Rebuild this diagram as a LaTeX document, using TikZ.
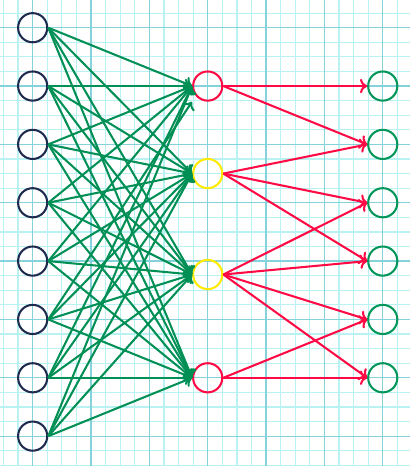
\documentclass[tikz,border=0pt]{standalone}
\usetikzlibrary{arrows.meta}
\definecolor{gridminor}{HTML}{B8F2F2}
\definecolor{gridmajor}{HTML}{86D2DA}
\definecolor{inblue}{HTML}{1F2A4F}
\definecolor{hidred}{HTML}{FF0A45}
\definecolor{hidyel}{HTML}{FFEA00}
\definecolor{outgreen}{HTML}{00965A}
\definecolor{edgegreen}{HTML}{008F55}
\definecolor{edgered}{HTML}{FF0A45}
\tikzset{
  neuron/.style={circle, minimum size=0.5cm, inner sep=0pt, line width=1pt},
  innode/.style={neuron, draw=inblue},
  rednode/.style={neuron, draw=hidred},
  yelnode/.style={neuron, draw=hidyel},
  outnode/.style={neuron, draw=outgreen},
  gedge/.style={-{To[length=3.5pt,width=7pt]}, draw=edgegreen, line width=1pt},
  redge/.style={-{To[length=3.5pt,width=7pt]}, draw=edgered, line width=1pt},
}
\begin{document}
\begin{tikzpicture}
\useasboundingbox (-0.56,-7.512) rectangle (6.466,0.475);
\fill[white] (-0.56,-7.512) rectangle (6.466,0.475);
\draw[gridminor, line width=0.6pt] (-0.56,-7.512) grid[step=0.25] (6.466,0.475);
\draw[gridmajor, line width=0.6pt] (-0.56,-7.512) grid[step=1] (6.466,0.475);
% inputs
\foreach \i in {0,...,7} { \node[innode] (i\i) at (0,-\i) {}; }
% hidden
\node[rednode] (h1) at (3,-1) {};
\node[yelnode] (h2) at (3,-2.5) {};
\node[yelnode] (h3) at (3,-4.23) {};
\node[rednode] (h4) at (3,-6) {};
% outputs
\foreach \j in {1,...,6} { \node[outnode] (o\j) at (6,-\j) {}; }
\coordinate (odd) at (2.73,-1.27);
% green edges
\foreach \i in {0,1,2,3,4,6,7} { \draw[gedge] (i\i.east) -- (h1.west); }
\draw[gedge] (i5.east) -- (odd);
\foreach \i in {0,...,7} {
  \draw[gedge] (i\i.east) -- (h2.west);
  \draw[gedge] (i\i.east) -- (h3.west);
  \draw[gedge] (i\i.east) -- (h4.west);
}
% red edges
\foreach \a/\b in {h1/o1,h1/o2,h2/o2,h2/o3,h2/o4,h3/o3,h3/o4,h3/o5,h3/o6,h4/o5,h4/o6} {
  \draw[redge] (\a.east) -- (\b.west);
}
\end{tikzpicture}
\end{document}
